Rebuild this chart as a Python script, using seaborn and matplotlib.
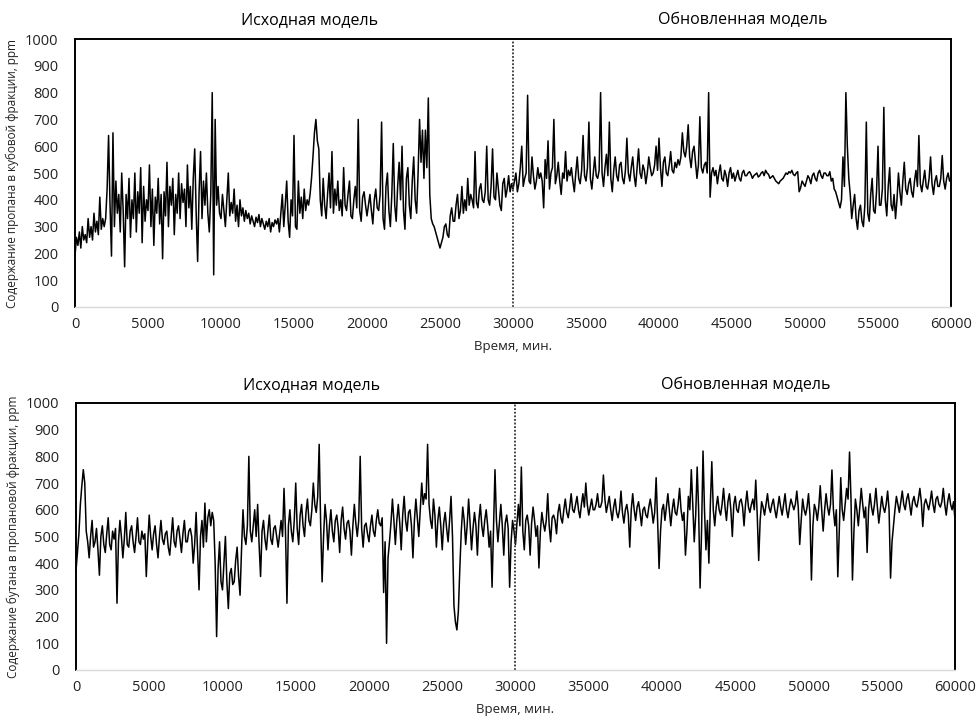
import numpy as np
import pandas as pd
import seaborn as sns
import matplotlib
matplotlib.use("Agg")
import matplotlib.pyplot as plt

#   time axis, minutes (one reading every 100 min)
time_min = list(range(0, 60001, 100))

#   propane in the bottoms fraction, ppm
propane_ppm = [
    190, 260, 230, 280, 220, 300, 250, 270, 240, 330,
    260, 300, 250, 350, 280, 320, 270, 410, 290, 330,
    300, 330, 440, 640, 380, 190, 650, 300, 470, 350,
    420, 280, 500, 360, 150, 420, 330, 480, 260, 400,
    330, 500, 280, 430, 350, 520, 240, 450, 320, 400,
    360, 530, 300, 440, 230, 410, 350, 480, 310, 420,
    180, 430, 340, 540, 300, 450, 380, 480, 270, 420,
    350, 500, 330, 460, 390, 440, 300, 530, 370, 450,
    290, 480, 590, 350, 170, 430, 580, 330, 470, 380,
    500, 350, 280, 420, 800, 120, 700, 380, 450, 350,
    330, 420, 360, 300, 400, 500, 340, 390, 350, 440,
    320, 380, 300, 400, 340, 370, 320, 360, 330, 350,
    310, 340, 320, 300, 335, 315, 345, 300, 330, 310,
    290, 320, 300, 330, 280, 315, 300, 325, 310, 330,
    280, 350, 420, 300, 380, 470, 320, 260, 400, 340,
    640, 300, 290, 470, 350, 410, 330, 440, 360, 400,
    380, 420, 480, 560, 650, 700, 620, 590, 400, 340,
    480, 380, 330, 420, 500, 370, 580, 350, 440, 380,
    470, 360, 400, 340, 520, 380, 360, 420, 470, 340,
    330, 400, 450, 370, 700, 360, 320, 410, 430, 380,
    340, 380, 420, 360, 310, 400, 440, 370, 360, 420,
    690, 330, 290, 450, 500, 360, 300, 420, 610, 380,
    320, 450, 540, 400, 600, 360, 290, 480, 520, 380,
    330, 470, 560, 400, 350, 500, 700, 540, 660, 480,
    660, 520, 780, 420, 330, 310, 300, 280, 260, 240,
    220, 240, 260, 300, 310, 270, 260, 340, 370, 320,
    320, 380, 420, 330, 360, 450, 350, 400, 360, 480,
    380, 420, 400, 370, 580, 390, 370, 440, 460, 400,
    390, 430, 600, 400, 380, 450, 590, 410, 400, 500,
    440, 380, 360, 460, 480, 410, 440, 490, 430, 460,
    440, 470, 500, 430, 460, 520, 600, 450, 480, 500,
    790, 470, 460, 560, 490, 440, 470, 520, 480, 500,
    470, 370, 550, 480, 620, 440, 500, 520, 700, 460,
    490, 540, 470, 420, 500, 480, 580, 470, 510, 490,
    520, 470, 430, 500, 560, 480, 460, 510, 640, 490,
    470, 520, 690, 480, 440, 500, 560, 490, 480, 510,
    800, 500, 450, 520, 570, 490, 690, 480, 430, 510,
    560, 490, 470, 530, 540, 480, 460, 510, 630, 500,
    470, 520, 560, 490, 450, 520, 590, 500, 480, 530,
    510, 460, 500, 560, 520, 490, 500, 530, 600, 510,
    630, 520, 450, 540, 560, 500, 490, 530, 580, 510,
    500, 540, 520, 550, 530, 560, 650, 580, 560, 600,
    680, 560, 520, 580, 600, 540, 480, 530, 710, 520,
    500, 530, 540, 500, 800, 410, 500, 520, 490, 510,
    460, 500, 530, 480, 470, 510, 490, 450, 500, 520,
    480, 500, 470, 490, 510, 480, 470, 500, 510, 490,
    490, 500, 505, 495, 480, 490, 495, 500, 485, 490,
    500, 505, 490, 510, 500, 495, 480, 485, 490, 480,
    470, 465, 460, 470, 475, 480, 490, 500, 495, 505,
    500, 510, 495, 490, 500, 505, 430, 445, 470, 460,
    450, 470, 490, 480, 460, 490, 500, 480, 470, 500,
    510, 490, 480, 500, 500, 490, 490, 505, 470, 480,
    440, 430, 410, 390, 370, 400, 560, 450, 800, 600,
    480, 420, 330, 380, 420, 330, 290, 360, 380, 320,
    300, 380, 690, 350, 320, 420, 480, 360, 350, 430,
    600, 380, 380, 440, 745, 400, 340, 450, 520, 380,
    360, 420, 330, 400, 500, 430, 380, 470, 540, 440,
    420, 460, 480, 430, 410, 470, 510, 450, 640, 460,
    430, 470, 510, 450, 440, 480, 560, 460, 420, 470,
    490, 450, 450, 480, 565, 470, 440, 480, 500, 470,
    480,
]

#   butane in the propane fraction, ppm
butane_ppm = [
    370, 440, 510, 620, 690, 750, 700, 520, 480, 420,
    500, 560, 460, 480, 530, 450, 355, 500, 540, 470,
    440, 510, 570, 470, 450, 520, 490, 530, 250, 480,
    560, 500, 420, 490, 590, 470, 460, 520, 540, 480,
    440, 500, 570, 480, 470, 520, 490, 510, 350, 480,
    580, 500, 450, 510, 540, 470, 420, 500, 560, 490,
    470, 510, 520, 460, 430, 500, 570, 480, 460, 520,
    540, 490, 440, 510, 560, 480, 480, 520, 530, 500,
    400, 470, 590, 450, 300, 500, 560, 460, 625, 480,
    570, 600, 540, 590, 560, 400, 125, 380, 480, 330,
    300, 400, 500, 330, 230, 360, 380, 320, 330, 410,
    460, 350, 280, 450, 600, 500, 470, 540, 800, 520,
    480, 540, 600, 500, 620, 470, 350, 520, 560, 490,
    450, 520, 580, 490, 470, 530, 540, 500, 460, 510,
    560, 500, 680, 520, 250, 540, 600, 520, 480, 560,
    700, 530, 470, 580, 620, 540, 500, 590, 640, 560,
    540, 600, 700, 620, 590, 650, 845, 550, 330, 500,
    620, 560, 450, 540, 600, 520, 480, 560, 580, 530,
    440, 560, 610, 530, 490, 550, 560, 520, 430, 540,
    620, 550, 500, 560, 800, 530, 460, 540, 550, 510,
    480, 540, 580, 520, 500, 560, 600, 550, 540, 570,
    290, 480, 100, 420, 480, 550, 640, 560, 470, 560,
    620, 550, 450, 580, 650, 560, 520, 590, 600, 540,
    420, 560, 640, 570, 500, 600, 700, 620, 660, 640,
    845, 620, 560, 530, 640, 580, 460, 560, 610, 540,
    450, 550, 590, 530, 480, 560, 650, 500, 240, 180,
    150, 220, 380, 520, 610, 560, 470, 540, 640, 550,
    450, 530, 590, 540, 430, 560, 620, 540, 500, 560,
    600, 540, 460, 520, 310, 530, 750, 560, 480, 550,
    620, 540, 430, 550, 580, 530, 310, 480, 560, 520,
    470, 550, 620, 540, 760, 520, 450, 560, 580, 540,
    430, 550, 610, 560, 500, 540, 382, 520, 590, 550,
    520, 560, 660, 540, 480, 570, 580, 560, 510, 590,
    620, 570, 550, 600, 640, 590, 570, 610, 660, 600,
    590, 620, 650, 600, 570, 620, 660, 610, 700, 620,
    580, 610, 640, 600, 600, 620, 660, 610, 610, 630,
    730, 640, 590, 620, 650, 600, 560, 610, 640, 590,
    570, 600, 670, 590, 550, 600, 620, 580, 460, 600,
    660, 600, 560, 610, 630, 590, 540, 600, 610, 580,
    570, 610, 640, 600, 550, 590, 720, 560, 380, 520,
    600, 620, 560, 610, 660, 600, 540, 600, 640, 590,
    580, 620, 680, 600, 560, 590, 430, 520, 650, 600,
    750, 620, 480, 580, 760, 600, 307, 520, 820, 600,
    450, 560, 400, 620, 780, 600, 540, 610, 650, 600,
    580, 620, 680, 610, 560, 630, 660, 600, 500, 620,
    650, 600, 590, 630, 640, 610, 540, 620, 670, 610,
    590, 620, 640, 600, 711, 580, 410, 560, 630, 610,
    580, 620, 660, 610, 590, 620, 640, 600, 570, 610,
    650, 610, 580, 620, 660, 600, 570, 610, 640, 620,
    600, 620, 670, 610, 470, 560, 640, 600, 580, 610,
    660, 580, 337, 540, 620, 600, 560, 610, 690, 600,
    520, 600, 660, 610, 580, 620, 749, 600, 540, 600,
    349, 520, 720, 600, 560, 620, 680, 640, 816, 640,
    337, 520, 640, 600, 540, 610, 680, 620, 570, 610,
    440, 600, 660, 610, 580, 620, 680, 610, 550, 600,
    650, 610, 590, 620, 670, 600, 344, 480, 540, 600,
    650, 620, 590, 630, 670, 620, 600, 640, 660, 620,
    580, 630, 650, 620, 610, 640, 680, 630, 537, 620,
    640, 620, 600, 630, 670, 620, 590, 640, 650, 620,
    610, 630, 680, 620, 580, 630, 660, 620, 600, 630,
    560,
]

panel_ylabels = [
    "Содержание пропана в кубовой фракции, ppm",
    "Содержание бутана в пропановой фракции, ppm",
]
period_titles = ["Исходная модель", "Обновленная модель"]
switch_time = 30000
x_label = "Время, мин."

sns.set_style("white")
plt.rcParams["font.family"] = ["Open Sans", "DejaVu Sans"]

df = pd.DataFrame({"t": time_min, "propane": propane_ppm, "butane": butane_ppm})

fig = plt.figure(figsize=(9.79, 7.28), dpi=100)
ax_top = fig.add_axes([0.0766, 0.5783, 0.8948, 0.3681])
ax_bot = fig.add_axes([0.0776, 0.0797, 0.8979, 0.3668])

for ax, col, ylab, title_y in [(ax_top, "propane", panel_ylabels[0], 1.07),
                                (ax_bot, "butane", panel_ylabels[1], 1.065)]:
    sns.lineplot(data=df, x="t", y=col, ax=ax, color="black", linewidth=1.1,
                 estimator=None, sort=False)
    ax.axvline(switch_time, color="#333333", linestyle=(0, (1, 1)), linewidth=1.3)

    ax.set_xlim(0, 60000)
    ax.set_ylim(0, 1000)
    ax.set_xticks(np.arange(0, 60001, 5000))
    ax.set_yticks(np.arange(0, 1001, 100))
    ax.tick_params(axis="both", length=0, labelsize=10.5, colors="#222222")
    ax.tick_params(axis="y", pad=12)
    ax.tick_params(axis="x", pad=7)

    for side in ["top", "left", "right"]:
        ax.spines[side].set_color("black")
        ax.spines[side].set_linewidth(1.4)
    ax.spines["bottom"].set_color("#d9d9d9")
    ax.spines["bottom"].set_linewidth(1.0)

    ax.set_ylabel(ylab, fontsize=8.5, color="#222222", labelpad=4)
    ax.set_xlabel(x_label, fontsize=9.5, color="#222222", labelpad=6)

    ax.text(0.268, title_y, period_titles[0], transform=ax.transAxes,
            ha="center", va="center", fontsize=11.5, color="black")
    ax.text(0.762, title_y, period_titles[1], transform=ax.transAxes,
            ha="center", va="center", fontsize=11.5, color="black")

fig.savefig("out.png", dpi=100)
